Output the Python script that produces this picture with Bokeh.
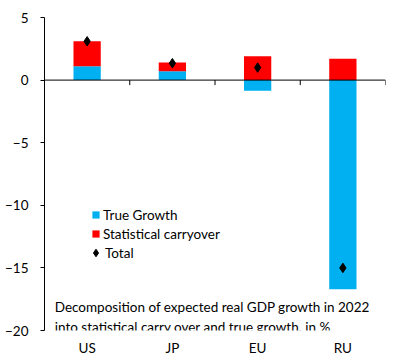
from bokeh.plotting import figure
from bokeh.models import (Range1d, FixedTicker, Legend, LegendItem, Label,
                          ColumnDataSource, Span)
from bokeh.embed import file_html
from bokeh.resources import INLINE

categories = ["US", "JP", "EU", "RU"]
true_growth = [1.1, 0.7, -0.85, -16.7]
carryover = [2.0, 0.7, 1.9, 1.7]
total = [3.1, 1.35, 1.0, -15.0]
y_ticks = [-20, -15, -10, -5, 0, 5]
note_lines = ["Decomposition of expected real GDP growth in 2022",
              "into statistical carry over and true growth, in %"]

FONT = "Lato"
FS = "13.5px"
BLUE = "#00B0F0"
RED = "#FF0000"

n = len(categories)
xpos = [i + 0.5 for i in range(n)]
bounds = [i + 1 for i in range(n)]
carry_bottom = [max(t, 0) for t in true_growth]
carry_top = [b + c for b, c in zip(carry_bottom, carryover)]

src = ColumnDataSource(dict(x=xpos, cat=categories, tg=true_growth, cb=carry_bottom,
                            ct=carry_top, tot=total))

p = figure(width=400, height=360, x_range=Range1d(0, n),
           y_range=Range1d(-20, 5), output_backend="svg", toolbar_location=None,
           min_border_left=44, min_border_right=15, min_border_top=17, min_border_bottom=30)
p.outline_line_color = None
p.xgrid.visible = False
p.ygrid.visible = False
p.background_fill_color = "white"

r_blue = p.vbar(x="x", top="tg", bottom=0, width=0.32, source=src,
                fill_color=BLUE, line_color=None)
r_red = p.vbar(x="x", top="ct", bottom="cb", width=0.32, source=src,
               fill_color=RED, line_color=None)

# horizontal axis line at zero with ticks on the category boundaries
p.add_layout(Span(location=0, dimension="width", line_color="black", line_width=1))
tick_len = 5 / (313 / 25)  # 5 px in data units
p.segment(x0=bounds, y0=[0] * n, x1=bounds, y1=[-tick_len] * n,
          line_color="black", line_width=1)

r_tot = p.scatter(x="x", y="tot", source=src, marker="diamond",
                  size=9.5, fill_color="black", line_color="black", line_width=1)

# category labels at the bottom
xa = p.xaxis[0]
xa.ticker = FixedTicker(ticks=xpos)
xa.major_label_overrides = {x: c for x, c in zip(xpos, categories)}
xa.axis_line_color = None
xa.major_tick_line_color = None
xa.minor_tick_line_color = None
xa.major_tick_in = 0
xa.major_tick_out = 0
xa.major_label_standoff = 9
xa.major_label_text_font = FONT
xa.major_label_text_font_size = FS
xa.major_label_text_color = "black"

# y axis
ya = p.yaxis[0]
ya.ticker = FixedTicker(ticks=y_ticks)
ya.minor_tick_line_color = None
ya.major_tick_in = 0
ya.major_tick_out = 4
ya.major_label_standoff = 12
ya.major_label_text_font = FONT
ya.major_label_text_font_size = FS
ya.major_label_text_color = "black"
ya.axis_line_color = "black"
ya.major_tick_line_color = "black"

legend_style = dict(padding=0, margin=0, spacing=0, label_height=19,
                    label_text_font=FONT, label_text_font_size=FS,
                    label_text_color="black", border_line_color=None,
                    background_fill_alpha=0)
legend_bars = Legend(items=[LegendItem(label="True Growth", renderers=[r_blue]),
                            LegendItem(label="Statistical carryover", renderers=[r_red])],
                     location=(47, 87), glyph_width=9, glyph_height=9,
                     label_standoff=3, **legend_style)
legend_total = Legend(items=[LegendItem(label="Total", renderers=[r_tot])],
                      location=(42, 68), glyph_width=19, glyph_height=19,
                      label_standoff=0, **legend_style)
p.add_layout(legend_bars)
p.add_layout(legend_total)

for i, line in enumerate(note_lines):
    p.add_layout(Label(x=0.12, y=-18.15 - 1.55 * i, text=line,
                       text_font=FONT, text_font_size=FS, text_color="black",
                       text_baseline="middle"))

open("out.html", "w").write(file_html(p, INLINE))
